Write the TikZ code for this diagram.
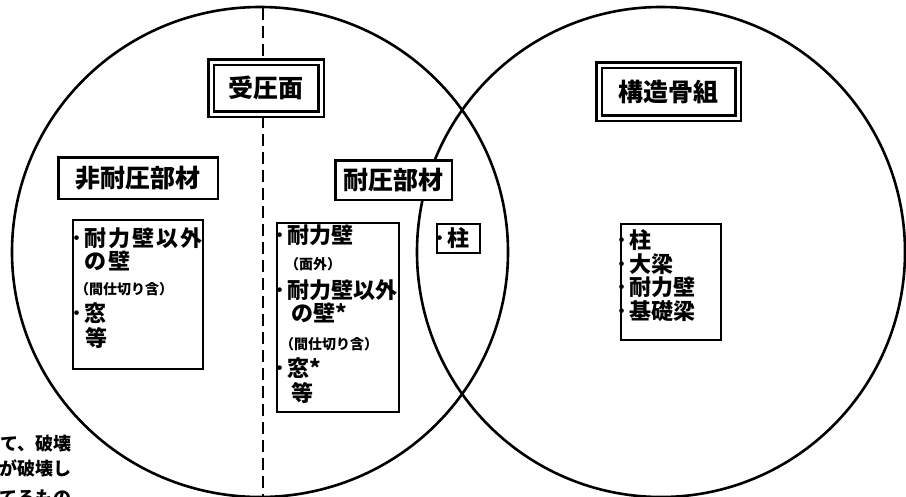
\documentclass[tikz,border=0pt]{standalone}
\usepackage{fontspec}
\setmainfont{Noto Sans CJK JP}
\newcommand{\itemdot}{\llap{･\kern2pt}}
\tikzset{
	ring/.style={black, line width=2.6pt},
	divider/.style={black, line width=2.4pt, dash pattern=on 12pt off 6pt},
	titlebox/.style={draw, fill=white, line width=2.5pt, inner sep=0pt, font=\fontsize{25}{25}\selectfont\bfseries},
	heading/.style={titlebox, double, line width=2.3pt, double distance=3pt},
	listbox/.style={draw, fill=white, line width=2pt, inner sep=0pt, font=\fontsize{22}{22}\selectfont\bfseries},
	entry/.style={anchor=west, inner sep=0pt, text height=17.6pt, text depth=4.4pt, font=\fontsize{22}{22}\selectfont\bfseries},
	wide entry/.style={entry, font=\fontsize{22}{22}\selectfont\bfseries\addfontfeature{LetterSpace=9}},
	aside/.style={anchor=west, inner sep=0pt, text height=11.2pt, text depth=2.8pt, font=\fontsize{14}{14}\selectfont\bfseries},
	remark/.style={anchor=east, inner sep=0pt, text height=14.4pt, text depth=3.6pt, font=\fontsize{18}{18}\selectfont\bfseries}
}
\begin{document}
\begin{tikzpicture}[x=1pt, y=-1pt]
\useasboundingbox (0,0) rectangle (906,496);
\clip (0,0) rectangle (906,496);

\draw [ring] (260,252) ellipse [x radius=248pt, y radius=245pt];
\draw [ring] (661,252) ellipse [x radius=244pt, y radius=245pt];
\coordinate (cut top) at (263,8);
\coordinate (cut bottom) at (263,496);
\draw [divider] (cut top) -- (cut bottom);

\node (pressure) at (266,88) [heading, minimum width=110pt, minimum height=52pt] {受圧面};
\node (frame) at (668.5,91.5) [heading, minimum width=139pt, minimum height=53pt] {構造骨組};
\node (nonbearing) at (138,178) [titlebox, minimum width=159.5pt, minimum height=41.5pt] {非耐圧部材};
\node (bearing) at (393.5,180) [titlebox, minimum width=116.5pt, minimum height=39.5pt] {耐圧部材};

\node (left list) at (138,294.5) [listbox, minimum width=130pt, minimum height=149pt] {};
\node (mid list) at (338,317.5) [listbox, minimum width=122pt, minimum height=189pt] {};
\node (column) at (458.5,238.5) [listbox, minimum width=43pt, minimum height=29pt] {\itemdot 柱};
\node (right list) at (671,282) [listbox, minimum width=100pt, minimum height=116pt] {};

\node (l1) at (84,240) [wide entry] {\itemdot 耐力壁以外};
\node (l2) at (84,263) [wide entry] {の壁};
\node (l3) at (75,290) [aside] {（間仕切り含）};
\node (l4) at (84,315) [entry] {\itemdot 窓};
\node (l5) at (85,340) [entry] {等};

\node (m1) at (287,237) [entry] {\itemdot 耐力壁};
\node (m2) at (285,265) [aside] {（面外）};
\node (m3) at (287,292) [entry] {\itemdot 耐力壁以外};
\node (m4) at (291,315) [entry] {の壁*};
\node (m5) at (280,345) [aside] {（間仕切り含）};
\node (m6) at (287,370) [entry] {\itemdot 窓*};
\node (m7) at (291,395) [entry] {等};

\foreach \part [count=\i] in {柱,大梁,耐力壁,基礎梁}
	\node (r\i) at (629,{218.5+23.5*\i}) [entry] {\itemdot\part};

\node (note1) at (72,445) [remark] {て、破壊};
\node (note2) at (72,470) [remark] {が破壊し};
\node (note3) at (72,499) [remark] {てるもの};
\end{tikzpicture}
\end{document}
